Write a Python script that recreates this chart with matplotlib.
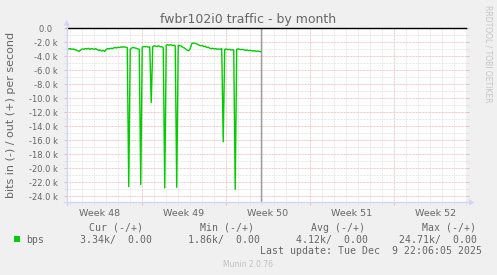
import matplotlib
matplotlib.use("Agg")
import matplotlib.pyplot as plt
import matplotlib.dates as mdates
import matplotlib.patches as mpatches
import matplotlib.transforms as mtransforms
from matplotlib.lines import Line2D
import numpy as np
import pandas as pd

# bps in (negative side), kbit/s, one sample every 3 hours up to last update
bps_in = [
    -2.9, -2.95, -2.9, -3.0, -2.95, -3.05, -3.1, -3.2, -3.3, -3.1,
    -2.95, -3.0, -2.9, -2.95, -2.85, -3.0, -2.9, -2.95, -3.0, -2.9,
    -3.05, -3.15, -3.1, -3.25, -3.15, -3.3, -3.0, -2.9, -2.95, -2.85,
    -2.9, -2.8, -2.75, -2.8, -2.7, -2.75, -2.65, -2.7, -2.65, -2.7,
    -2.75, -22.6, -3.0, -2.8, -2.75, -2.8, -2.85, -2.95, -3.0, -22.3,
    -2.7, -2.6, -2.65, -2.6, -2.7, -2.65, -10.6, -2.6, -2.5, -2.55,
    -2.6, -2.5, -2.65, -2.6, -2.75, -22.8, -2.4, -2.35, -2.4, -2.35,
    -2.45, -2.4, -2.5, -22.7, -2.4, -2.5, -2.55, -2.7, -2.8, -2.95,
    -3.15, -3.2, -2.9, -2.2, -2.1, -2.15, -2.2, -2.3, -2.4, -2.5,
    -2.45, -2.6, -2.55, -2.75, -2.7, -2.85, -2.9, -2.85, -2.95, -2.9,
    -3.0, -2.95, -3.0, -2.9, -16.2, -3.0, -2.95, -3.05, -3.0, -3.1,
    -3.05, -3.1, -23.0, -3.0, -2.95, -3.0, -3.05, -3.0, -3.1, -3.15,
    -3.1, -3.2, -3.15, -3.2, -3.25, -3.2, -3.3, -3.25, -3.3, -3.34,
]
last_update = pd.Timestamp("2025-12-09 22:06:05")
times = pd.date_range(end=last_update, periods=len(bps_in), freq="3h")

x_start = pd.Timestamp("2025-11-23 18:00")
x_end = pd.Timestamp("2025-12-27 00:45")
week_starts = pd.to_datetime(["2025-11-30", "2025-12-07", "2025-12-14", "2025-12-21"])
week_mids = pd.to_datetime(["2025-11-26 12:00", "2025-12-03 12:00", "2025-12-10 12:00",
                            "2025-12-17 12:00", "2025-12-24 12:00"])
week_labels = ["Week 48", "Week 49", "Week 50", "Week 51", "Week 52"]

y_ticks = [0, -2, -4, -6, -8, -10, -12, -14, -16, -18, -20, -22, -24]
y_labels = ["0.0  "] + ["%.1f k" % v for v in y_ticks[1:]]

title = "fwbr102i0 traffic - by month"
ylabel = "bits in (-) / out (+) per second"
legend_heads = ["Cur (-/+)", "Min (-/+)", "Avg (-/+)", "Max (-/+)"]
legend_vals = ["3.34k/  0.00", "1.86k/  0.00", "4.12k/  0.00", "24.71k/  0.00"]

W, H = 497, 275
BACK = "#F0F0F0"
FONT = "#666666"
AXIS = "#CFD6F8"
GRID = "#E2E2E2"
MGRID = "#EDB8B8"
GREEN = "#00CC00"
dot = (0, (0.72, 0.72))


def fx(x):
    return x / W


def fy(y):
    return 1 - y / H


fig = plt.figure(figsize=(W / 100, H / 100), dpi=100, facecolor=BACK)
ax = fig.add_axes([fx(66.7), fy(202.3), (466 - 66.7) / W, (202.3 - 28.3) / H])
ax.set_facecolor("white")
for s in ax.spines.values():
    s.set_visible(False)

ax.plot(times, bps_in, color=GREEN, lw=1.0, zorder=3)
ax.axhline(0, color="black", lw=1.0, clip_on=False, zorder=4)
ax.axvline(last_update, color="#999999", lw=1.0, zorder=2)

ax.set_xlim(x_start, x_end)
ax.set_ylim(-24.85, 0)

ax.set_yticks(y_ticks)
ax.set_yticklabels(y_labels)
ax.set_yticks(np.arange(-24, 0, 1), minor=True)
ax.set_xticks(week_starts)
ax.set_xticklabels([])
ax.xaxis.set_minor_locator(mdates.DayLocator())

ax.grid(which="minor", color=GRID, linestyle=dot, lw=0.72, zorder=0)
ax.grid(which="major", color=MGRID, linestyle=dot, lw=0.72, zorder=1)
ax.set_axisbelow(True)

ax.tick_params(axis="y", which="major", length=2, width=0.72, color=MGRID, left=True, right=True,
               labelsize=6, labelcolor=FONT, pad=4.5)
ax.tick_params(axis="y", which="minor", length=2, width=0.72, color=GRID, left=True, right=True)
ax.tick_params(axis="x", which="major", length=2, width=0.72, color=MGRID, bottom=True)
ax.tick_params(axis="x", which="minor", length=2, width=0.72, color=GRID, bottom=True)

lab_tr = mtransforms.blended_transform_factory(ax.transData, fig.transFigure)
for d, lab in zip(week_mids, week_labels):
    ax.text(d, fy(215.7), lab, transform=lab_tr, ha="center", va="baseline", fontsize=6.8, color=FONT)

# axes with arrows
fig.add_artist(Line2D([fx(66.7), fx(66.7)], [fy(205), fy(24)], color=AXIS, lw=1.0))
fig.add_artist(Line2D([fx(63.5), fx(470)], [fy(202.3), fy(202.3)], color=AXIS, lw=1.0))
fig.add_artist(mpatches.Polygon([(fx(63.5), fy(25.5)), (fx(70), fy(25.5)), (fx(66.7), fy(20))],
                                closed=True, color=AXIS, lw=0))
fig.add_artist(mpatches.Polygon([(fx(469), fy(199)), (fx(469), fy(205.6)), (fx(474.5), fy(202.3))],
                                closed=True, color=AXIS, lw=0))

fig.text(fx(248.5), fy(23.3), title, ha="center", va="baseline", fontsize=9, color=FONT)
fig.text(fx(11), fy(115), ylabel, rotation=90, ha="center", va="center", fontsize=8, color=FONT)
fig.text(fx(488), fy(5), "RRDTOOL / TOBI OETIKER", rotation=-90, ha="center", va="top",
         fontsize=5.5, color="#C4C4C4")

mono = "DejaVu Sans Mono"
head_right = [142.7, 254, 365, 476]
val_right = [152, 260, 368.3, 476.7]
for xr, t in zip(head_right, legend_heads):
    fig.text(fx(xr), fy(230.7), t, ha="right", va="baseline", fontsize=7.1, family=mono, color=FONT)
for xr, t in zip(val_right, legend_vals):
    fig.text(fx(xr), fy(242.7), t, ha="right", va="baseline", fontsize=7.1, family=mono, color=FONT)
fig.add_artist(mpatches.Rectangle((fx(14), fy(242)), 5.5 / W, 6 / H, color=GREEN, lw=0))
fig.text(fx(26.5), fy(242.7), "bps", ha="left", va="baseline", fontsize=7.1, family=mono, color=FONT)
fig.text(fx(482.3), fy(254.3), "Last update: Tue Dec  9 22:06:05 2025", ha="right", va="baseline",
         fontsize=7.1, family=mono, color=FONT)
fig.text(fx(248), fy(267), "Munin 2.0.76", ha="center", va="baseline", fontsize=5.5, color="#C0C0C0")

fig.savefig("out.png", dpi=100, facecolor=BACK)
